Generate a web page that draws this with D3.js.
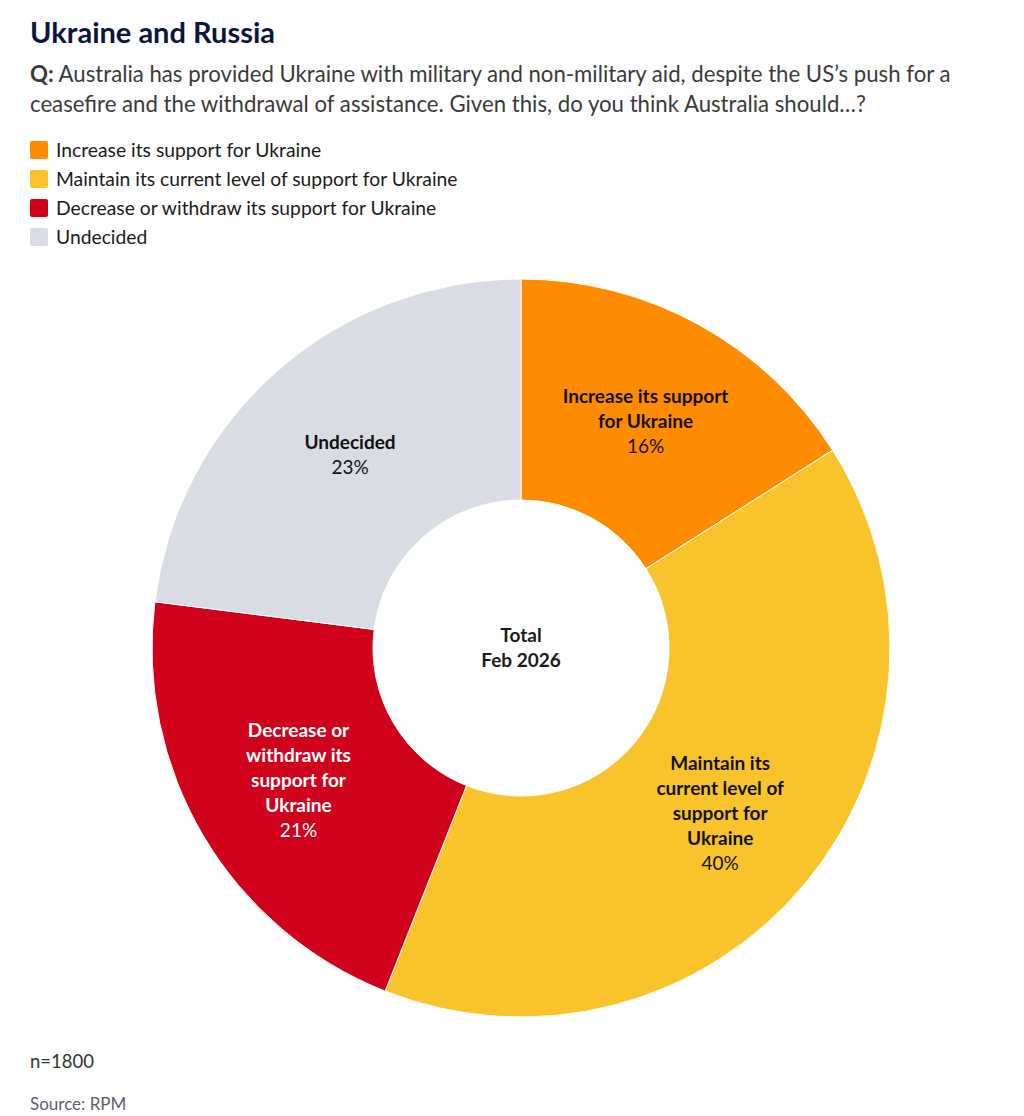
<!DOCTYPE html>
<html>
<head>
<meta charset="utf-8">
<script src="https://cdn.jsdelivr.net/npm/d3@7"></script>
<style>
  body { margin: 0; background: #fff; font-family: Lato, "Noto Sans", sans-serif; }
  svg text { font-family: Lato, "Noto Sans", sans-serif; }
</style>
</head>
<body>
<div id="chart"></div>
<script>
// data
const categories = [
  "Increase its support for Ukraine",
  "Maintain its current level of support for Ukraine",
  "Decrease or withdraw its support for Ukraine",
  "Undecided"
];
const values = [16, 40, 21, 23];
const colours = ["#ff8c00", "#f9c42b", "#d0021b", "#d9dce3"];
const sliceLabels = [
  ["Increase its support", "for Ukraine"],
  ["Maintain its", "current level of", "support for", "Ukraine"],
  ["Decrease or", "withdraw its", "support for", "Ukraine"],
  ["Undecided"]
];
const labelColours = ["#111", "#111", "#fff", "#111"];
const centreLines = ["Total", "Feb 2026"];

let width = 1024,
  height = 1116;

let svg = d3.select("#chart")
  .append("svg")
  .attr("width", width)
  .attr("height", height);

// title + question
svg.append("text")
  .attr("x", 30).attr("y", 43)
  .attr("font-size", 29)
  .attr("font-weight", 700)
  .attr("fill", "#0d1638")
  .text("Ukraine and Russia");

let q = svg.append("text")
  .attr("x", 30).attr("y", 82)
  .attr("font-size", 22.2)
  .attr("fill", "#3a3a3a");
q.append("tspan").attr("font-weight", 700).text("Q:");
q.append("tspan").text(" Australia has provided Ukraine with military and non-military aid, despite the US\u2019s push for a");
svg.append("text")
  .attr("x", 30).attr("y", 112)
  .attr("font-size", 22.2)
  .attr("fill", "#3a3a3a")
  .text("ceasefire and the withdrawal of assistance. Given this, do you think Australia should\u2026?");

// legend
let legend = svg.append("g").attr("class", "legend");
let rows = legend.selectAll("g")
  .data(categories)
  .join("g")
  .attr("transform", (d, i) => `translate(30, ${141 + i * 29})`);
rows.append("rect")
  .attr("width", 18).attr("height", 18)
  .attr("rx", 2)
  .attr("fill", (d, i) => colours[i]);
rows.append("text")
  .attr("x", 26).attr("y", 15.5)
  .attr("font-size", 19.3)
  .attr("fill", "#1a1a1a")
  .text(d => d);

// donut
let cx = 521, cy = 648,
  outerR = 369, innerR = 148;

let pie = d3.pie().sort(null).value(d => d)(values);
let arc = d3.arc().innerRadius(innerR).outerRadius(outerR);

let g = svg.append("g")
  .attr("transform", `translate(${cx},${cy})`);

g.selectAll("path")
  .data(pie)
  .join("path")
  .attr("d", arc)
  .attr("fill", (d, i) => colours[i])
  .attr("stroke", "#fff")
  .attr("stroke-width", 1);

let lineH = 25;
let labels = g.selectAll("text.slice")
  .data(pie)
  .join("text")
  .attr("class", "slice")
  .attr("text-anchor", "middle")
  .attr("font-size", 19)
  .attr("fill", (d, i) => labelColours[i])
  .each(function (d, i) {
    let c = arc.centroid(d);
    let lines = sliceLabels[i];
    let n = lines.length + 1;
    let top = c[1] - (n - 1) * lineH / 2 + 7;
    let t = d3.select(this);
    lines.forEach((l, j) => {
      t.append("tspan")
        .attr("x", c[0]).attr("y", top + j * lineH)
        .attr("font-weight", 700)
        .text(l);
    });
    t.append("tspan")
      .attr("x", c[0]).attr("y", top + lines.length * lineH)
      .text(d.data + "%");
  });

g.append("text")
  .attr("text-anchor", "middle")
  .attr("font-size", 19)
  .attr("font-weight", 700)
  .attr("fill", "#1a1a1a")
  .selectAll("tspan")
  .data(centreLines)
  .join("tspan")
  .attr("x", 0)
  .attr("y", (d, i) => -6 + i * 25)
  .text(d => d);

// footer
svg.append("text")
  .attr("x", 30).attr("y", 1068)
  .attr("font-size", 18.5)
  .attr("fill", "#333")
  .text("n=1800");
svg.append("text")
  .attr("x", 30).attr("y", 1110)
  .attr("font-size", 17)
  .attr("fill", "#5b6070")
  .text("Source: RPM");
</script>
</body>
</html>
